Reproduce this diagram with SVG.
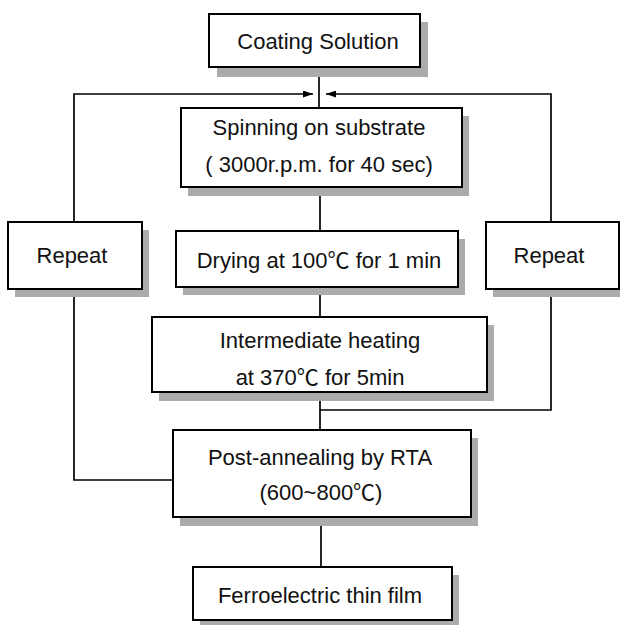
<svg xmlns="http://www.w3.org/2000/svg" width="620" height="625" viewBox="0 0 620 625">
<style>
.box{fill:#fff;stroke:#000;stroke-width:2}
.sh{fill:#ababab}
.t{font-family:"Liberation Sans","Noto Sans CJK KR",sans-serif;font-size:22px;text-anchor:middle;fill:#111}
.ln{stroke:#000;stroke-width:1.7;fill:none}
</style>
<defs>
<marker id="arr" markerUnits="userSpaceOnUse" markerWidth="10" markerHeight="7" refX="10" refY="3.5" orient="auto">
<path d="M0,0 L10,3.5 L0,7 z" fill="#000"/>
</marker>
</defs>
<rect width="620" height="625" fill="#fff"/>
<g id="connectors">
<line class="ln" x1="319" y1="67" x2="319" y2="108"/>
<line class="ln" x1="320" y1="187" x2="320" y2="231"/>
<line class="ln" x1="320" y1="287" x2="320" y2="317"/>
<line class="ln" x1="320" y1="392" x2="320" y2="430"/>
<line class="ln" x1="321" y1="517" x2="321" y2="567"/>
<polyline class="ln" points="74,222 74,94 313,94" marker-end="url(#arr)"/>
<polyline class="ln" points="551,222 551,94 326,94" marker-end="url(#arr)"/>
<polyline class="ln" points="173,480 74,480 74,289"/>
<polyline class="ln" points="320,410 551,410 551,289"/>
</g>
<g id="coating">
<rect class="sh" x="217" y="22" width="211" height="55"/>
<rect class="box" x="209" y="14" width="211" height="53"/>
<text class="t" x="318" y="49">Coating Solution</text>
</g>
<g id="spinning">
<rect class="sh" x="188" y="116" width="281" height="80"/>
<rect class="box" x="181" y="108" width="281" height="79"/>
<text class="t" x="319" y="135">Spinning on substrate</text>
<text class="t" x="319" y="172">( 3000r.p.m. for 40 sec)</text>
</g>
<g id="repeat-left">
<rect class="sh" x="15" y="230" width="134" height="67"/>
<rect class="box" x="8" y="222" width="134" height="67"/>
<text class="t" x="72" y="263">Repeat</text>
</g>
<g id="repeat-right">
<rect class="sh" x="493" y="230" width="133" height="67"/>
<rect class="box" x="486" y="222" width="133" height="67"/>
<text class="t" x="549" y="263">Repeat</text>
</g>
<g id="drying">
<rect class="sh" x="183" y="239" width="282" height="56"/>
<rect class="box" x="176" y="231" width="282" height="56"/>
<text class="t" x="319" y="268">Drying at 100℃ for 1 min</text>
</g>
<g id="intermediate">
<rect class="sh" x="159" y="325" width="335" height="76"/>
<rect class="box" x="152" y="317" width="335" height="75"/>
<text class="t" x="320" y="348">Intermediate heating</text>
<text class="t" x="320" y="385">at 370℃ for 5min</text>
</g>
<g id="post-annealing">
<rect class="sh" x="180" y="438" width="298" height="88"/>
<rect class="box" x="173" y="430" width="298" height="87"/>
<text class="t" x="320" y="465">Post-annealing by RTA</text>
<text class="t" x="321" y="500">(600~800℃)</text>
</g>
<g id="ferroelectric">
<rect class="sh" x="200" y="575" width="259" height="54"/>
<rect class="box" x="193" y="567" width="259" height="53"/>
<text class="t" x="320" y="603">Ferroelectric thin film</text>
</g>
</svg>
